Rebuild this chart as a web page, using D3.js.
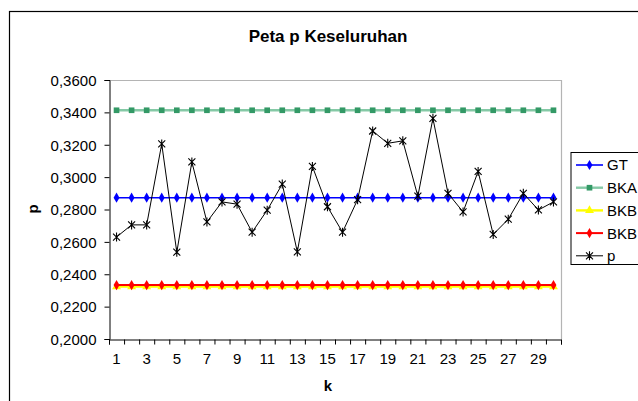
<!DOCTYPE html>
<html>
<head>
<meta charset="utf-8">
<script src="https://cdn.jsdelivr.net/npm/d3@7"></script>
<style>
  body { margin: 0; background: #fff; }
  svg text { font-family: Arial, "Liberation Sans", sans-serif; fill: #000; }
</style>
</head>
<body>
<div id="chart"></div>
<script>
// categories (k) and series
var kLabels = [1, 2, 3, 4, 5, 6, 7, 8, 9, 10, 11, 12, 13, 14, 15,
               16, 17, 18, 19, 20, 21, 22, 23, 24, 25, 26, 27, 28, 29, 30];
var gtVals  = [0.2873, 0.2873, 0.2873, 0.2873, 0.2873, 0.2873, 0.2873, 0.2873, 0.2873, 0.2873,
               0.2873, 0.2873, 0.2873, 0.2873, 0.2873, 0.2873, 0.2873, 0.2873, 0.2873, 0.2873,
               0.2873, 0.2873, 0.2873, 0.2873, 0.2873, 0.2873, 0.2873, 0.2873, 0.2873, 0.2873];
var bkaVals = [0.3413, 0.3413, 0.3413, 0.3413, 0.3413, 0.3413, 0.3413, 0.3413, 0.3413, 0.3413,
               0.3413, 0.3413, 0.3413, 0.3413, 0.3413, 0.3413, 0.3413, 0.3413, 0.3413, 0.3413,
               0.3413, 0.3413, 0.3413, 0.3413, 0.3413, 0.3413, 0.3413, 0.3413, 0.3413, 0.3413];
var bkbVals = [0.2333, 0.2333, 0.2333, 0.2333, 0.2333, 0.2333, 0.2333, 0.2333, 0.2333, 0.2333,
               0.2333, 0.2333, 0.2333, 0.2333, 0.2333, 0.2333, 0.2333, 0.2333, 0.2333, 0.2333,
               0.2333, 0.2333, 0.2333, 0.2333, 0.2333, 0.2333, 0.2333, 0.2333, 0.2333, 0.2333];
var pVals   = [0.2630, 0.2705, 0.2705, 0.3205, 0.2536, 0.3094, 0.2723, 0.2847, 0.2833, 0.2660,
               0.2796, 0.2957, 0.2538, 0.3066, 0.2817, 0.2660, 0.2861, 0.3285, 0.3209, 0.3224,
               0.2882, 0.3363, 0.2900, 0.2785, 0.3035, 0.2646, 0.2740, 0.2900, 0.2797, 0.2847];
var yTicks = [0.20, 0.22, 0.24, 0.26, 0.28, 0.30, 0.32, 0.34, 0.36];

var width = 638, height = 401;
var plot = {left: 109, right: 561, top: 80, bottom: 339};

var svg = d3.select("#chart").append("svg")
    .attr("width", width)
    .attr("height", height);

// chart area border (runs off the right and bottom of the picture)
svg.append("rect")
   .attr("x", 9.5).attr("y", 11.5)
   .attr("width", 700).attr("height", 500)
   .attr("fill", "#fff")
   .attr("stroke", "#000")
   .attr("stroke-width", 1.2);

var x = d3.scaleBand()
    .domain(kLabels)
    .range([plot.left, plot.right])
    .padding(0);
var xEdge = d3.scaleLinear()
    .domain([0, kLabels.length])
    .range([plot.left, plot.right]);
var y = d3.scaleLinear()
    .domain([0.2, 0.36])
    .range([plot.bottom, plot.top]);
var cx = function(i) { return x(kLabels[i]) + x.bandwidth() / 2; };

// plot area frame: grey top/right
svg.append("path")
   .attr("d", "M" + plot.left + "," + (plot.top + 0.5) + "H" + (plot.right + 0.5) + "V" + plot.bottom)
   .attr("fill", "none")
   .attr("stroke", "#b4b4b4")
   .attr("stroke-width", 1.2);

// title
svg.append("text")
   .attr("x", 328).attr("y", 42)
   .attr("text-anchor", "middle")
   .style("font-size", "17px")
   .style("font-weight", "bold")
   .text("Peta p Keseluruhan");

// y axis
var yAxis = svg.append("g")
   .attr("transform", "translate(" + (plot.left + 0.5) + ",0)")
   .call(d3.axisLeft(y).tickValues(yTicks).tickSize(5).tickPadding(8)
           .tickFormat(function(d) { return d3.format(".4f")(d).replace(".", ","); }));
yAxis.selectAll("text").style("font-size", "15px").attr("dy", "0.35em");

// x axis: tick marks at category edges, labels on odd categories
var xTickG = svg.append("g")
   .attr("transform", "translate(0," + (plot.bottom + 0.5) + ")")
   .call(d3.axisBottom(xEdge).tickValues(d3.range(0, kLabels.length + 1)).tickSize(5).tickFormat(""));
var xLabG = svg.append("g")
   .attr("transform", "translate(0," + (plot.bottom + 0.5) + ")")
   .call(d3.axisBottom(x).tickValues(kLabels.filter(function(d) { return d % 2 === 1; }))
           .tickSize(0).tickPadding(14));
xLabG.select(".domain").remove();
xLabG.selectAll("text").style("font-size", "15px");
svg.selectAll(".domain, .tick line").attr("stroke", "#000");

// axis titles
svg.append("text")
   .attr("x", 328).attr("y", 391)
   .attr("text-anchor", "middle")
   .style("font-size", "15px").style("font-weight", "bold")
   .text("k");
svg.append("text")
   .attr("transform", "translate(38,209) rotate(-90)")
   .attr("text-anchor", "middle")
   .style("font-size", "15px").style("font-weight", "bold")
   .text("p");

var line = d3.line()
    .x(function(d, i) { return cx(i); })
    .y(function(d) { return y(d); });

var diamond = d3.symbol().type(d3.symbolDiamond).size(30)();
var square = d3.symbol().type(d3.symbolSquare).size(32)();
var triangle = d3.symbol().type(d3.symbolTriangle).size(34)();
var star = "M-3.5,-3.5L3.5,3.5M-3.5,3.5L3.5,-3.5M0,-4.5V4.5";

var series = [
  {name: "GT",  values: gtVals,  line: "#0000ff", width: 1.6, marker: diamond,  mfill: "#0000ff", mstroke: "none"},
  {name: "BKA", values: bkaVals, line: "#85c9a6", width: 2.4, marker: square,   mfill: "#339966", mstroke: "none"},
  {name: "BKB", values: bkbVals, line: "#ffff00", width: 2.4, marker: triangle, mfill: "#ffff00", mstroke: "none", dy: 1.5},
  {name: "BKB", values: bkbVals, line: "#ff0000", width: 2.0, marker: diamond,  mfill: "#ff0000", mstroke: "none"},
  {name: "p",   values: pVals,   line: "#000000", width: 1.0, marker: star,     mfill: "none",    mstroke: "#000"}
];

series.forEach(function(s) {
  var g = svg.append("g").attr("transform", "translate(0," + (s.dy || 0) + ")");
  g.append("path")
   .datum(s.values)
   .attr("d", line)
   .attr("fill", "none")
   .attr("stroke", s.line)
   .attr("stroke-width", s.width);
  g.selectAll("path.mk")
   .data(s.values)
   .enter().append("path")
   .attr("class", "mk")
   .attr("d", s.marker)
   .attr("transform", function(d, i) { return "translate(" + cx(i) + "," + y(d) + ")"; })
   .attr("fill", s.mfill)
   .attr("stroke", s.mstroke)
   .attr("stroke-width", 1.1);
});

// legend
var lg = svg.append("g").attr("transform", "translate(571,152.5)");
lg.append("rect")
  .attr("x", 0).attr("y", 0)
  .attr("width", 120).attr("height", 112)
  .attr("fill", "#fff")
  .attr("stroke", "#000")
  .attr("stroke-width", 1);
series.forEach(function(s, i) {
  var yy = 12.5 + i * 22.7;
  lg.append("line")
    .attr("x1", 5).attr("x2", 32)
    .attr("y1", yy).attr("y2", yy)
    .attr("stroke", s.line)
    .attr("stroke-width", s.width);
  lg.append("path")
    .attr("d", s.marker)
    .attr("transform", "translate(18.5," + yy + ")")
    .attr("fill", s.mfill)
    .attr("stroke", s.mstroke)
    .attr("stroke-width", 1.1);
  lg.append("text")
    .attr("x", 36).attr("y", yy)
    .attr("dy", "0.36em")
    .style("font-size", "15px")
    .text(s.name);
});
</script>
</body>
</html>
